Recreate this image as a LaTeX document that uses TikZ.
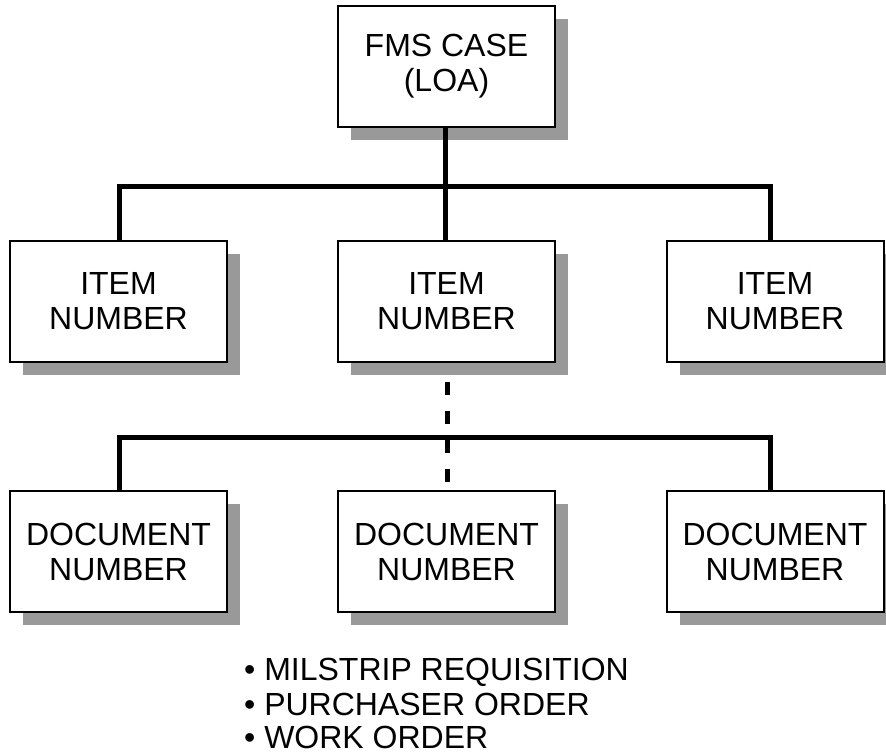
\documentclass[tikz,border=0pt]{standalone}
\usepackage{fontspec}
\setmainfont{Liberation Sans}
\usetikzlibrary{shadows}
\tikzset{
  box/.style={draw, line width=2pt, fill=white, minimum width=217pt,
    minimum height=121pt, inner sep=0pt, align=center,
    font=\fontsize{32}{35}\selectfont,
    drop shadow={shadow xshift=13pt, shadow yshift=-13pt, fill=black!40, opacity=1}},
  link/.style={line width=5pt},
  dotlink/.style={line width=5pt, dash pattern=on 13pt off 16pt},
  bullet/.style={anchor=base west, inner sep=0pt, font=\fontsize{32}{35}\selectfont}
}
\begin{document}
\begin{tikzpicture}[x=1pt, y=-1pt]
\useasboundingbox (0,0) rectangle (886,753);

% top level
\node[box] (fms) at (446.5,66.5) {FMS CASE\\(LOA)};

% item level
\node[box] (itm1) at (118.5,301.5) {ITEM\\NUMBER};
\node[box] (itm2) at (446.5,301.5) {ITEM\\NUMBER};
\node[box] (itm3) at (775,301.5) {ITEM\\NUMBER};

% document level
\node[box] (doc1) at (118.5,551.5) {DOCUMENT\\NUMBER};
\node[box] (doc2) at (446.5,551.5) {DOCUMENT\\NUMBER};
\node[box] (doc3) at (775,551.5) {DOCUMENT\\NUMBER};

% bus rails
\coordinate (busA) at (445,186);
\coordinate (busB) at (447,437);
\coordinate (dashtop) at (447,382);
\coordinate (dashend) at (447,482);

% connectors: case to items
\draw[link] (fms.south -| busA) -- (itm2.north -| busA);
\draw[link] ([xshift=0.5pt]itm1.north) |- (busA) -| ([xshift=-5pt]itm3.north);

% connectors: item to documents
\draw[link] ([xshift=0.5pt]doc1.north) |- (busB) -| ([xshift=-5pt]doc3.north);
\draw[dotlink] (dashtop) -- (dashend);

% document kinds
\node[bullet] (b1) at (244,680) {• MILSTRIP REQUISITION};
\node[bullet] (b2) at (244,715) {• PURCHASER ORDER};
\node[bullet] (b3) at (244,748) {• WORK ORDER};
\end{tikzpicture}
\end{document}
